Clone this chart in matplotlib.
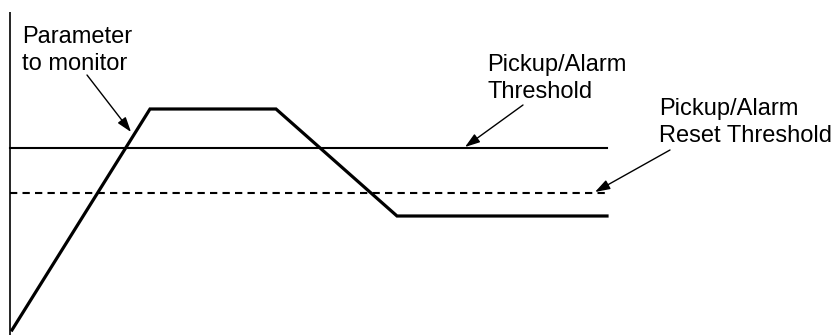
import matplotlib
matplotlib.use('Agg')
import matplotlib.pyplot as plt

# Parameter trace (time, value)
time = [0.2, 14.0, 26.6, 38.7, 59.7]
value = [0.5, 22.6, 22.6, 11.9, 11.9]

# Threshold levels and span
pickup_level = 18.7
reset_level = 14.2
threshold_span = [0.0, 59.7]

axis_top = 32.3

labels = ['Parameter\nto monitor', 'Pickup/Alarm\nThreshold', 'Pickup/Alarm\nReset Threshold']
label_pos = [(1.2, 26.5), (47.7, 23.7), (64.9, 19.3)]
arrow_tail = [(7.7, 26.0), (51.3, 23.0), (66.0, 18.5)]
arrow_head = [(12.1, 20.3), (45.5, 18.8), (58.5, 14.3)]

plt.rcParams['font.family'] = ['Liberation Sans', 'DejaVu Sans']

fig = plt.figure(figsize=(8.35, 3.35), dpi=100)
ax = fig.add_axes([0, 0, 1, 1])
ax.set_xlim(-1.0, 82.5)
ax.set_ylim(0, 33.5)
ax.axis('off')

# vertical axis
ax.plot([0, 0], [0, axis_top], color='black', lw=1.2, solid_capstyle='butt')

# thresholds
ax.plot(threshold_span, [pickup_level, pickup_level], color='black', lw=1.5)
ax.plot(threshold_span, [reset_level, reset_level], color='black', lw=1.5,
        linestyle=(0, (3.5, 2.5)))

# parameter
ax.plot(time, value, color='black', lw=2.3, solid_joinstyle='miter')

# labels, last line baseline at the given position
for txt, pos, tail, head in zip(labels, label_pos, arrow_tail, arrow_head):
    ax.text(pos[0], pos[1], txt, fontsize=17, ha='left', va='baseline',
            linespacing=1.27)
    ax.annotate('', xy=head, xytext=tail,
                arrowprops=dict(arrowstyle='-|>,head_length=0.9,head_width=0.3',
                                color='black', lw=1.0, shrinkA=0, shrinkB=0))

fig.savefig('out.png', dpi=100)
